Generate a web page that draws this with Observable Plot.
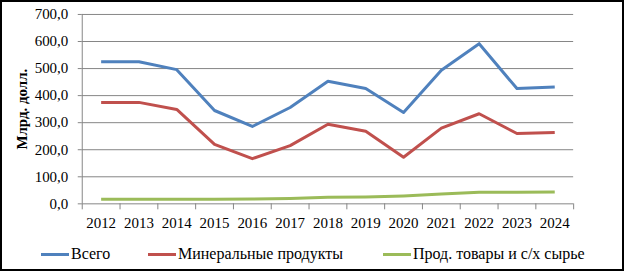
<!DOCTYPE html>
<html>
<head>
<meta charset="utf-8">
<script src="https://cdn.jsdelivr.net/npm/d3@7"></script>
<script src="https://cdn.jsdelivr.net/npm/@observablehq/plot@0.6"></script>
<style>
  html, body { margin: 0; padding: 0; background: #fff; }
  #frame {
    position: relative; width: 624px; height: 271px; box-sizing: border-box;
    border: 2px solid #000; overflow: hidden; background: #fff;
    font-family: "Liberation Serif", "DejaVu Serif", serif;
  }
  #chart { position: absolute; left: -2px; top: -2px; }
  #legend { position: absolute; left: -2px; top: 242px; width: 624px; height: 20px; font-size: 16px; color: #000;
    font-family: "Liberation Serif", "DejaVu Serif", serif; }
  .item { position: absolute; top: 0; display: flex; align-items: center; height: 20px; white-space: nowrap; }
  .sw { display: inline-block; width: 28px; height: 3px; margin-right: 2px; }
</style>
</head>
<body>
<div id="frame">
  <div id="chart"></div>
  <div id="legend"></div>
</div>
<script>
const years = [2012, 2013, 2014, 2015, 2016, 2017, 2018, 2019, 2020, 2021, 2022, 2023, 2024];
const total =    [525, 525, 496, 345, 286, 356, 453, 426, 338, 494, 592, 426, 432];
const minerals = [375, 375, 349, 220, 167, 215, 294, 268, 172, 280, 333, 260, 264];
const food =     [17, 17, 17, 17, 18, 20, 24, 25, 29, 36, 43, 43, 44];
const seriesNames = ["Всего", "Минеральные продукты", "Прод. товары и с/х сырье"];
const seriesColors = ["#4F81BD", "#C0504D", "#9BBB59"];
const yTicks = [0, 100, 200, 300, 400, 500, 600, 700];
const yLabel = "Млрд. долл.";
const legendLeft = [41, 148, 383];

const seriesValues = [total, minerals, food];
const data = [];
seriesNames.forEach((name, i) => {
  years.forEach((yr, j) => data.push({series: name, year: yr, value: seriesValues[i][j]}));
});
const edges = years.map(y => y - 0.5).concat([years[years.length - 1] + 0.5]);
const fmt = d => d.toFixed(1).replace(".", ",");
const grid = "#868686";

const chart = Plot.plot({
  width: 624,
  height: 238,
  marginLeft: 82,
  marginRight: 49,
  marginTop: 14,
  marginBottom: 34,
  style: {fontFamily: "'Liberation Serif', 'DejaVu Serif', serif", fontSize: "15px", color: "#000", background: "transparent"},
  x: {type: "linear", domain: [edges[0], edges[edges.length - 1]]},
  y: {domain: [0, 700]},
  color: {domain: seriesNames, range: seriesColors},
  marks: [
    Plot.gridY(yTicks.filter(d => d > 0), {stroke: grid, strokeOpacity: 1, strokeWidth: 1}),
    Plot.ruleX([edges[0]], {y1: 0, y2: 700, stroke: grid}),
    Plot.ruleY([0], {stroke: grid}),
    Plot.axisY({ticks: yTicks, tickFormat: fmt, tickSize: 4, tickPadding: 10, stroke: grid, label: null, fill: "#000"}),
    Plot.axisX({ticks: edges, tickFormat: () => "", tickSize: 6, stroke: grid, label: null}),
    Plot.axisX({ticks: years, tickFormat: d => String(d), tickSize: 0, tickPadding: 14, label: null, fill: "#000"}),
    Plot.text([yLabel], {frameAnchor: "left", textAnchor: "middle", rotate: -90, dx: -60, fontWeight: "bold", fontSize: 15, fill: "#000"}),
    Plot.line(data, {x: "year", y: "value", z: "series", stroke: "series", strokeWidth: 3, strokeLinejoin: "round", strokeLinecap: "butt"})
  ]
});
document.getElementById("chart").appendChild(chart);

const legend = document.getElementById("legend");
seriesNames.forEach((name, i) => {
  const it = document.createElement("div");
  it.className = "item";
  it.style.left = legendLeft[i] + "px";
  const sw = document.createElement("span");
  sw.className = "sw";
  sw.style.background = seriesColors[i];
  it.appendChild(sw);
  it.appendChild(document.createTextNode(name));
  legend.appendChild(it);
});
</script>
</body>
</html>
